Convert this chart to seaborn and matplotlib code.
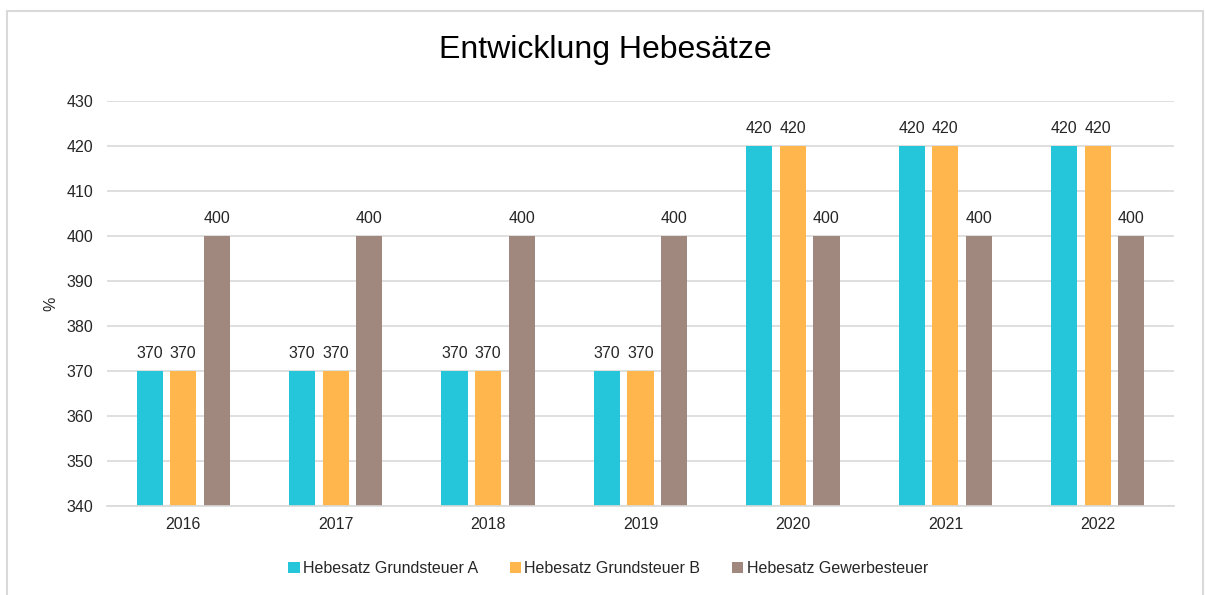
import matplotlib
matplotlib.use('Agg')
import matplotlib.pyplot as plt
from matplotlib.patches import Rectangle
import seaborn as sns
import pandas as pd

# Daten
years = ['2016', '2017', '2018', '2019', '2020', '2021', '2022']
grundsteuer_a = [370, 370, 370, 370, 420, 420, 420]
grundsteuer_b = [370, 370, 370, 370, 420, 420, 420]
gewerbesteuer = [400, 400, 400, 400, 400, 400, 400]
series_names = ['Hebesatz Grundsteuer A', 'Hebesatz Grundsteuer B', 'Hebesatz Gewerbesteuer']
colors = ['#26C6DA', '#FFB74D', '#A1887F']

df = pd.DataFrame({
    'Jahr': years * 3,
    'Wert': grundsteuer_a + grundsteuer_b + gewerbesteuer,
    'Reihe': [s for s in series_names for _ in years],
})

sns.set_style('white')
plt.rcParams['font.family'] = ['Liberation Sans', 'DejaVu Sans']
text_color = '#262626'
grid_color = '#D9D9D9'

fig = plt.figure(figsize=(12.05, 5.95), dpi=100)
ax = fig.add_axes([0.0888, 0.1496, 0.8855, 0.6807])

sns.barplot(data=df, x='Jahr', y='Wert', hue='Reihe', hue_order=series_names,
            palette=colors, width=0.66, gap=0.22, ax=ax, legend=True,
            saturation=1, errorbar=None, linewidth=0)

ax.set_ylim(340, 430)
ax.set_yticks(range(340, 431, 10))
ax.yaxis.grid(True, color=grid_color, linewidth=1.2)
ax.set_axisbelow(True)
for side in ['left', 'right', 'top']:
    ax.spines[side].set_visible(False)
ax.spines['bottom'].set_color(grid_color)
ax.spines['bottom'].set_linewidth(1.2)
ax.tick_params(axis='both', length=0, labelsize=11.5, colors=text_color)
ax.tick_params(axis='y', pad=10)
ax.tick_params(axis='x', pad=8)

ax.set_xlabel('')
ax.set_ylabel('%', fontsize=11.5, color=text_color, labelpad=6)

for cont in ax.containers:
    ax.bar_label(cont, fmt='%d', padding=7, fontsize=11.5, color=text_color)

# Titel auf die Figur zentriert, nicht auf die Achse
fig.text(605 / 1205, 1 - 50 / 595, 'Entwicklung Hebesätze', fontsize=23,
         color='black', ha='center', va='center')

handles, labels = ax.get_legend_handles_labels()
ax.legend(handles, labels, loc='center', bbox_to_anchor=(0.4696, -0.155), ncol=3,
          frameon=False, fontsize=11.5, handlelength=0.7, handleheight=0.7,
          handletextpad=0.2, columnspacing=2.0, labelcolor=text_color)

fig.patches.append(Rectangle((7 / 1205, -0.05), 1196 / 1205, 1.05 - 11 / 595,
                             transform=fig.transFigure, fill=False,
                             edgecolor=grid_color, linewidth=1.5))

fig.savefig('out.png', dpi=100)
